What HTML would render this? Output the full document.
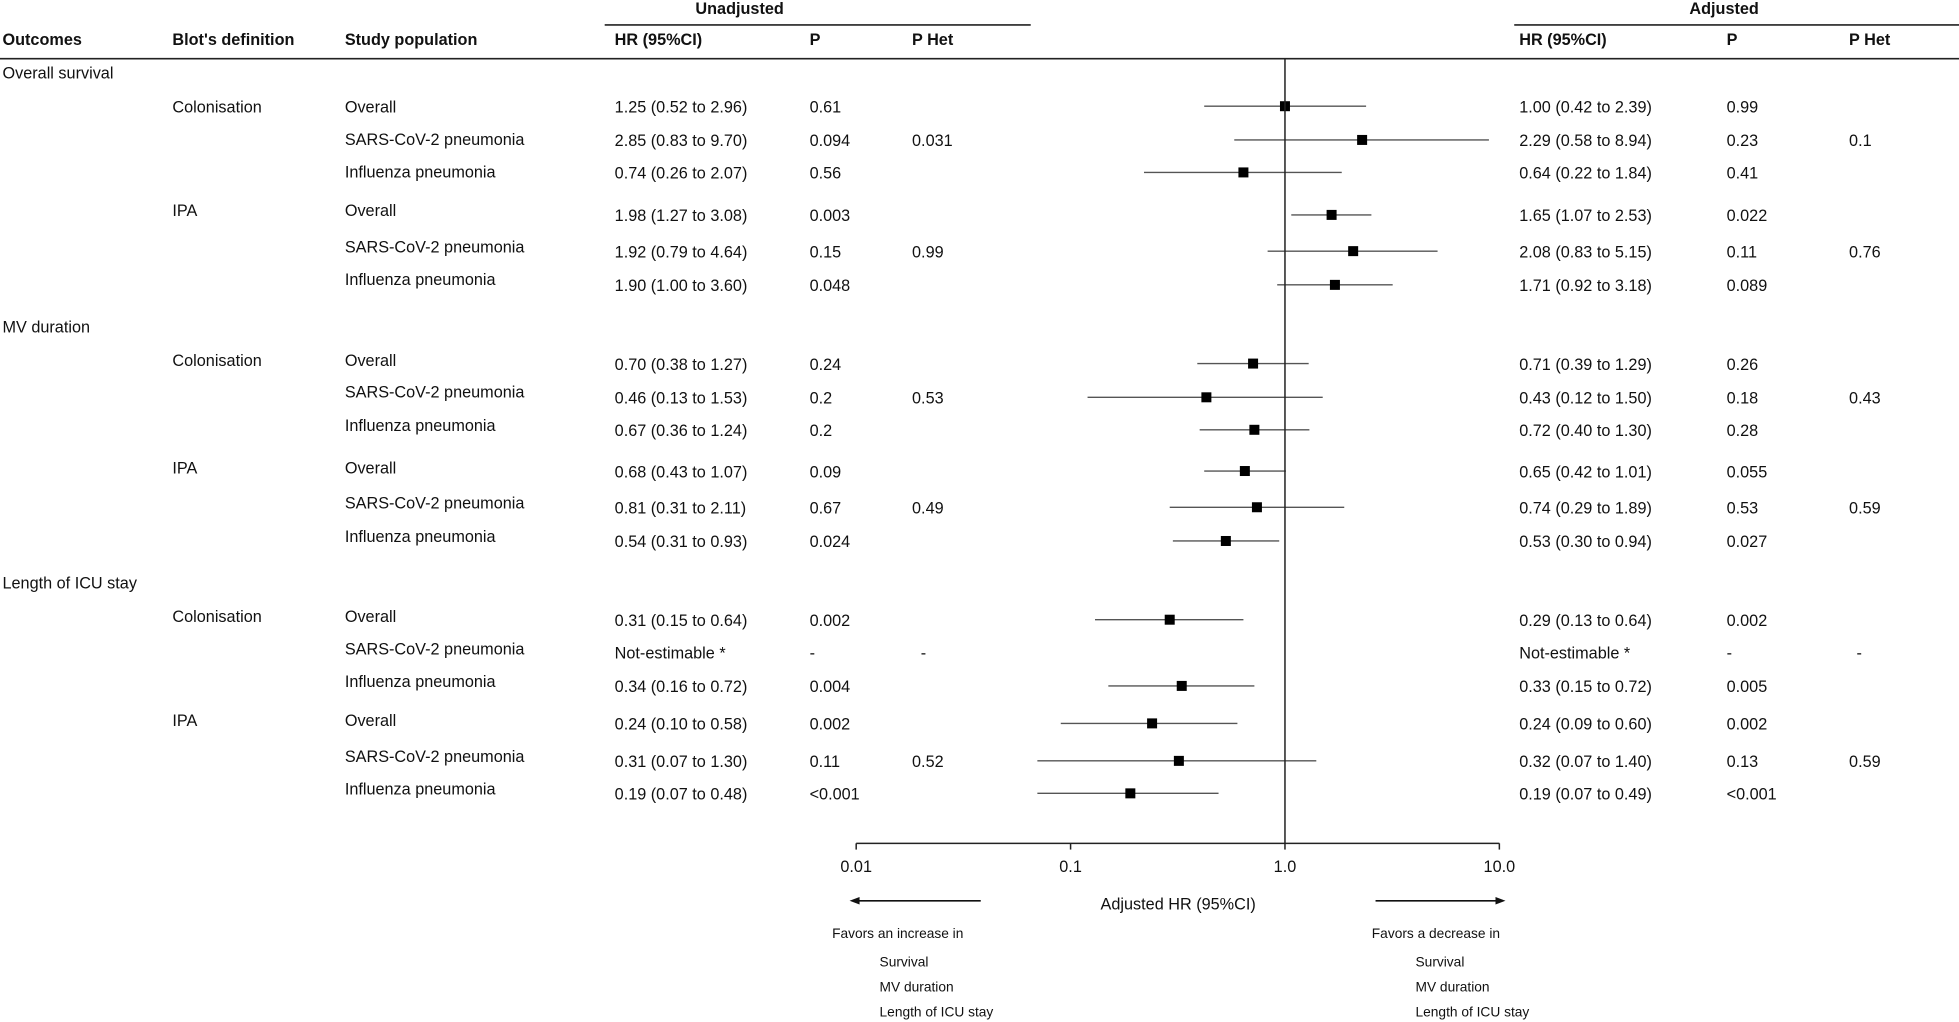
<!DOCTYPE html>
<html><head><meta charset="utf-8"><style>
html,body{margin:0;padding:0;background:#fff}
svg{display:block}
text{font-family:"Liberation Sans",Arial,sans-serif;font-size:13px;fill:#111;dominant-baseline:central}
.b{font-weight:bold}
</style></head><body>
<svg id="chart" width="1959" height="1022" viewBox="0 0 1568 818" xmlns="http://www.w3.org/2000/svg">
<g>
<text class="b" x="592" y="7" text-anchor="middle">Unadjusted</text>
<line x1="484" y1="20" x2="825" y2="20" stroke="#222" stroke-width="1.3"/>
<text class="b" x="1380" y="7" text-anchor="middle">Adjusted</text>
<line x1="1212" y1="20" x2="1568" y2="20" stroke="#222" stroke-width="1.3"/>
<text class="b" x="2" y="32">Outcomes</text>
<text class="b" x="138" y="32">Blot's definition</text>
<text class="b" x="276" y="32">Study population</text>
<text class="b" x="492" y="32">HR (95%CI)</text>
<text class="b" x="648" y="32">P</text>
<text class="b" x="730" y="32">P Het</text>
<text class="b" x="1216" y="32">HR (95%CI)</text>
<text class="b" x="1382" y="32">P</text>
<text class="b" x="1480" y="32">P Het</text>
<line x1="0" y1="47" x2="1568" y2="47" stroke="#222" stroke-width="1.3"/>
</g>
<g>
<text x="2" y="59">Overall survival</text>
<text x="2" y="262">MV duration</text>
<text x="2" y="467">Length of ICU stay</text>
<text x="138" y="86">Colonisation</text>
<text x="138" y="169">IPA</text>
<text x="138" y="289">Colonisation</text>
<text x="138" y="375">IPA</text>
<text x="138" y="494">Colonisation</text>
<text x="138" y="577">IPA</text>
</g>
<g id="rows"></g>
<g id="marks"></g>
<g id="axis"></g>
<g>
<text x="943" y="724" text-anchor="middle">Adjusted HR (95%CI)</text>
<line x1="785" y1="721" x2="686" y2="721" stroke="#111" stroke-width="1.3"/>
<polygon points="680,721 688,718 688,724" fill="#111"/>
<line x1="1101" y1="721" x2="1199" y2="721" stroke="#111" stroke-width="1.3"/>
<polygon points="1205,721 1197,718 1197,724" fill="#111"/>
<g style="font-size:11px">
<text x="666" y="747" style="font-size:11px">Favors an increase in</text>
<text x="704" y="770" style="font-size:11px">Survival</text>
<text x="704" y="790" style="font-size:11px">MV duration</text>
<text x="704" y="810" style="font-size:11px">Length of ICU stay</text>
<text x="1098" y="747" style="font-size:11px">Favors a decrease in</text>
<text x="1133" y="770" style="font-size:11px">Survival</text>
<text x="1133" y="790" style="font-size:11px">MV duration</text>
<text x="1133" y="810" style="font-size:11px">Length of ICU stay</text>
</g>
</g>
</svg>
<script>
const populations = ["Overall","SARS-CoV-2 pneumonia","Influenza pneumonia","Overall","SARS-CoV-2 pneumonia","Influenza pneumonia","Overall","SARS-CoV-2 pneumonia","Influenza pneumonia","Overall","SARS-CoV-2 pneumonia","Influenza pneumonia","Overall","SARS-CoV-2 pneumonia","Influenza pneumonia","Overall","SARS-CoV-2 pneumonia","Influenza pneumonia"];
const unadjHRText = ["1.25 (0.52 to 2.96)","2.85 (0.83 to 9.70)","0.74 (0.26 to 2.07)","1.98 (1.27 to 3.08)","1.92 (0.79 to 4.64)","1.90 (1.00 to 3.60)","0.70 (0.38 to 1.27)","0.46 (0.13 to 1.53)","0.67 (0.36 to 1.24)","0.68 (0.43 to 1.07)","0.81 (0.31 to 2.11)","0.54 (0.31 to 0.93)","0.31 (0.15 to 0.64)","Not-estimable *","0.34 (0.16 to 0.72)","0.24 (0.10 to 0.58)","0.31 (0.07 to 1.30)","0.19 (0.07 to 0.48)"];
const unadjP = ["0.61","0.094","0.56","0.003","0.15","0.048","0.24","0.2","0.2","0.09","0.67","0.024","0.002","-","0.004","0.002","0.11","<0.001"];
const unadjPHet = ["","0.031","","","0.99","","","0.53","","","0.49","","","-","","","0.52",""];
const adjHR = [1.00,2.29,0.64,1.65,2.08,1.71,0.71,0.43,0.72,0.65,0.74,0.53,0.29,null,0.33,0.24,0.32,0.19];
const adjLo = [0.42,0.58,0.22,1.07,0.83,0.92,0.39,0.12,0.40,0.42,0.29,0.30,0.13,null,0.15,0.09,0.07,0.07];
const adjHi = [2.39,8.94,1.84,2.53,5.15,3.18,1.29,1.50,1.30,1.01,1.89,0.94,0.64,null,0.72,0.60,1.40,0.49];
const adjP = ["0.99","0.23","0.41","0.022","0.11","0.089","0.26","0.18","0.28","0.055","0.53","0.027","0.002","-","0.005","0.002","0.13","<0.001"];
const adjPHet = ["","0.1","","","0.76","","","0.43","","","0.59","","","-","","","0.59",""];
const tickValues = [0.01,0.1,1,10];
const tickLabels = ["0.01","0.1","1.0","10.0"];

// layout (not data)
const labelYs = [86,112,138,169,198,224,289,314,341,375,403,430,494,520,546,577,606,632];
const valueYs = [86,113,139,173,202,229,292,319,345,378,407,434,497,523,550,580,610,636];
const NS = "http://www.w3.org/2000/svg";
const AX_Y = 675, X1 = 1028.5, DEC = 171.6;
function xScale(v){ return X1 + DEC*Math.log10(v); }
function mk(tag, attrs, parent, txt){
  const e = document.createElementNS(NS, tag);
  for (const k in attrs) e.setAttribute(k, attrs[k]);
  if (txt !== undefined) e.textContent = txt;
  parent.appendChild(e); return e;
}
const rows = document.getElementById('rows');
const marks = document.getElementById('marks');
const axis = document.getElementById('axis');
populations.forEach((p,i)=>{
  const ly = labelYs[i], vy = valueYs[i];
  let t;
  t = mk('text',{x:276,y:ly},rows,p);
  
  
  t = mk('text',{x:492,y:vy},rows,unadjHRText[i]);
  
  
  t = mk('text',{x:648,y:vy},rows,unadjP[i]);
  
  
  if (unadjPHet[i]) { t = mk('text',{x:unadjPHet[i]==='-'?737:730,y:vy},rows,unadjPHet[i]);
    
     }
  const adjTxt = adjHR[i]===null ? "Not-estimable *" : adjHR[i].toFixed(2)+" ("+adjLo[i].toFixed(2)+" to "+adjHi[i].toFixed(2)+")";
  t = mk('text',{x:1216,y:vy},rows,adjTxt);
  
  
  t = mk('text',{x:1382,y:vy},rows,adjP[i]);
  
  
  if (adjPHet[i]) { t = mk('text',{x:adjPHet[i]==='-'?1486:1480,y:vy},rows,adjPHet[i]);
    
     }
  if (adjHR[i]!==null){
    const my = vy-1;
    const l = mk('line',{x1:xScale(adjLo[i]),x2:xScale(adjHi[i]),y1:my,y2:my,stroke:'#555','stroke-width':1.1},marks);
    
    
    const r = mk('rect',{x:xScale(adjHR[i])-4,y:my-4,width:8,height:8,fill:'#000'},marks);
    
    
  }
});
let z = mk('line',{x1:xScale(1),x2:xScale(1),y1:47,y2:AX_Y,stroke:'#222','stroke-width':1.2},axis);


let al = mk('line',{x1:xScale(tickValues[0]),x2:xScale(tickValues[tickValues.length-1]),y1:AX_Y,y2:AX_Y,stroke:'#222','stroke-width':1.2},axis);


tickValues.forEach((v,i)=>{
  const tk = mk('line',{x1:xScale(v),x2:xScale(v),y1:AX_Y,y2:AX_Y+5,stroke:'#222','stroke-width':1.2},axis);
  
  
  const tl = mk('text',{x:xScale(v),y:694,'text-anchor':'middle'},axis,tickLabels[i]);
  
  
});
</script>
</body></html>
